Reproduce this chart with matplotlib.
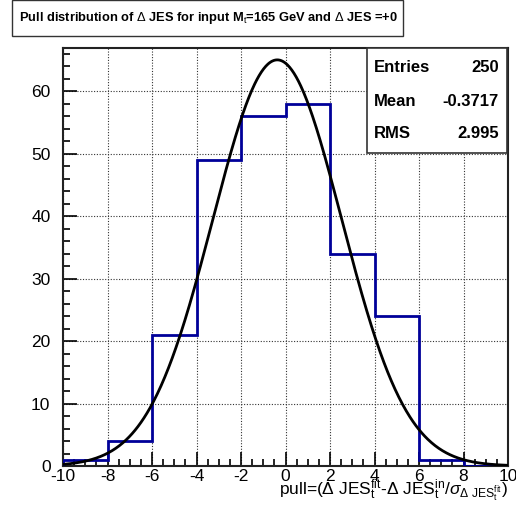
import numpy as np
import matplotlib
matplotlib.use("Agg")
import matplotlib.pyplot as plt
from matplotlib.patches import Rectangle
from matplotlib.ticker import MultipleLocator

plt.rcParams['font.family'] = ['Liberation Sans', 'DejaVu Sans']
plt.rcParams['mathtext.fontset'] = 'custom'
plt.rcParams['mathtext.rm'] = 'Liberation Sans'
plt.rcParams['mathtext.it'] = 'Liberation Sans:italic'
plt.rcParams['mathtext.bf'] = 'Liberation Sans:bold'

# Histogram of pulls (bin edges and counts)
bin_edges = [-10, -8, -6, -4, -2, 0, 2, 4, 6, 8, 10]
counts = [1, 4, 21, 49, 56, 58, 34, 24, 1, 0]

# Gaussian fit parameters
fit_amp = 65.0
fit_mean = -0.37
fit_sigma = 2.9

stats_labels = ["Entries", "Mean", "RMS"]
stats_values = ["250", "-0.3717", "2.995"]

W, H = 516, 508
fig = plt.figure(figsize=(W / 100, H / 100), dpi=100)
ax = fig.add_axes([63 / W, 1 - 466 / H, (508 - 63) / W, (466 - 48) / H])

ax.stairs(counts, bin_edges, color='#000099', linewidth=2.0, zorder=3)

xs = np.linspace(-10, 10, 600)
ys = fit_amp * np.exp(-0.5 * ((xs - fit_mean) / fit_sigma) ** 2)
ax.plot(xs, ys, color='black', linewidth=2.0, zorder=4)

ax.set_xlim(-10, 10)
ax.set_ylim(0, 66.9)
ax.xaxis.set_major_locator(MultipleLocator(2))
ax.xaxis.set_minor_locator(MultipleLocator(0.5))
ax.yaxis.set_major_locator(MultipleLocator(10))
ax.yaxis.set_minor_locator(MultipleLocator(2))
ax.tick_params(which='both', direction='in', top=False, right=False,
               labelsize=12.5, width=1.2, color='black')
ax.tick_params(which='major', length=10)
ax.tick_params(which='minor', length=5)
ax.tick_params(axis='x', pad=2)
ax.tick_params(axis='y', pad=9)
ax.grid(True, which='major', linestyle=(0, (1, 1.5)), color='#333333', linewidth=0.8)
for s in ax.spines.values():
    s.set_linewidth(1.5)
    s.set_color('#222222')

ax.set_xticks([-10, -8, -6, -4, -2, 0, 2, 4, 6, 8, 10])
ax.set_xticklabels(['-10', '-8', '-6', '-4', '-2', '0', '2', '4', '6', '8', '10'])

fig.text(508 / W, 1 - 490 / H,
         r'pull=($\Delta$ JES$_{\mathrm{t}}^{\mathrm{fit}}$-$\Delta$ JES$_{\mathrm{t}}^{\mathrm{in}}$/$\sigma_{\Delta\ \mathrm{JES}_{\mathrm{t}}^{\mathrm{fit}}}$)',
         ha='right', va='center', fontsize=12.5)

# Title box
tb = Rectangle((12 / W, 1 - 36 / H), (403 - 12) / W, 36 / H, transform=fig.transFigure,
               facecolor='white', edgecolor='#333333', linewidth=1.0)
fig.add_artist(tb)
fig.text(208 / W, 1 - 18 / H,
         r'Pull distribution of $\Delta$ JES for input M$_{\mathrm{t}}$=165 GeV and $\Delta$ JES =+0',
         ha='center', va='center', fontsize=9.3, fontweight='bold')

# Statistics box
sb = Rectangle((367 / W, 1 - 153 / H), (507 - 367) / W, (153 - 48) / H, transform=fig.transFigure,
               facecolor='white', edgecolor='#333333', linewidth=1.2, zorder=10)
fig.add_artist(sb)
row_y = [67, 101, 134]
for lab, val, yy in zip(stats_labels, stats_values, row_y):
    fig.text(374 / W, 1 - yy / H, lab, ha='left', va='center', fontsize=12,
             fontweight='bold', zorder=11)
    fig.text(499 / W, 1 - yy / H, val, ha='right', va='center', fontsize=12,
             fontweight='bold', zorder=11)

fig.savefig('out.png', dpi=100)
